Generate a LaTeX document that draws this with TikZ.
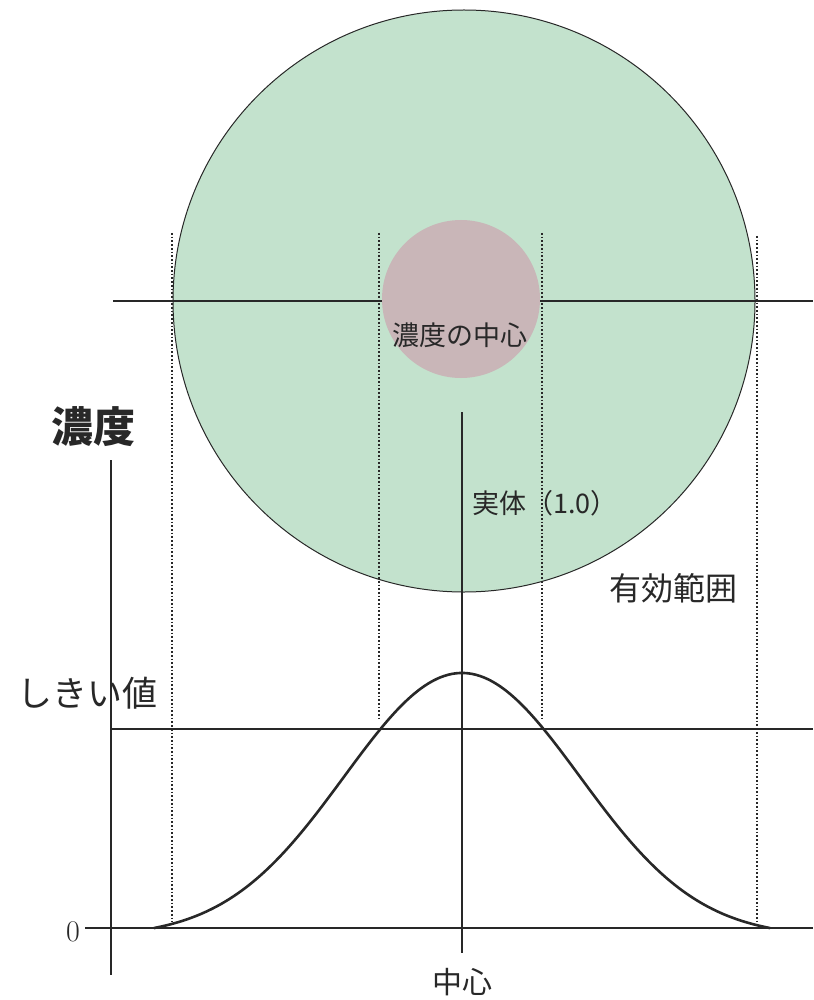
\documentclass[tikz,border=0pt]{standalone}
\usepackage{fontspec}
\newfontfamily\cjk{Noto Sans CJK JP}
\definecolor{effgreen}{RGB}{195,226,205}
\definecolor{corepink}{RGB}{201,182,184}
\definecolor{ink}{RGB}{40,40,40}
\tikzset{
  thinline/.style={draw=ink, line width=1.1pt},
  dotline/.style={draw=ink, line width=1.9pt, dash pattern=on 1.7pt off 2.0pt},
  lbl/.style={text=ink, inner sep=0pt},
}
\begin{document}
\begin{tikzpicture}[x=1pt, y=-1pt]
\useasboundingbox (0,0) rectangle (813,1000);
% circles
\fill[effgreen] (464,301) circle (291);
\draw[ink, line width=1pt] (464,301) circle (291);
\coordinate (hl) at (113,301);
\coordinate (hr) at (813,301);
\draw[thinline] (hl) -- (hr);
\fill[corepink] (461,299) circle (79);
% dotted verticals
\coordinate (d1t) at (172,233); \coordinate (d1b) at (172,922);
\coordinate (d2t) at (379,233); \coordinate (d2b) at (379,719);
\coordinate (d3t) at (542,233); \coordinate (d3b) at (542,719);
\coordinate (d4t) at (757,236); \coordinate (d4b) at (757,922);
\draw[dotline] (d1t) -- (d1b);
\draw[dotline] (d2t) -- (d2b);
\draw[dotline] (d3t) -- (d3b);
\draw[dotline] (d4t) -- (d4b);
% axes
\coordinate (yt) at (111,460); \coordinate (yb) at (111,975);
\coordinate (xl) at (85,928); \coordinate (xr) at (813,928);
\coordinate (tl) at (111,729); \coordinate (tr) at (813,729);
\coordinate (ct) at (462,412); \coordinate (cb) at (462,953);
\draw[thinline] (yt) -- (yb);
\draw[thinline] (xl) -- (xr);
\draw[thinline] (tl) -- (tr);
\draw[thinline] (ct) -- (cb);
% curve
\draw[ink, line width=2.6pt, line cap=round]
  plot[domain=-308:308, samples=120, smooth]
  ({462+\x}, {928-255*(exp(-(\x/100)*(\x/100)/2.7848)-0.0332)/0.9668});
% labels
\node[lbl, font=\cjk\bfseries\fontsize{42}{42}\selectfont] (nd) at (93,427) {濃度};
\node[lbl, font=\cjk\fontsize{35}{35}\selectfont] (th) at (87,693) {しきい値};
\node[lbl, font=\cjk\fontsize{27}{27}\selectfont] (cc) at (460,335) {濃度の中心};
\node[lbl, font=\cjk\fontsize{27}{27}\selectfont] (ent) at (545,503) {実体（1.0）};
\node[lbl, font=\cjk\fontsize{32}{32}\selectfont] (rng) at (673,588) {有効範囲};
\node[lbl, font=\cjk\fontsize{30}{30}\selectfont] (cen) at (462,982) {中心};
\node[lbl, font=\fontsize{30}{30}\selectfont] (zero) at (73,932) {0};
\end{tikzpicture}
\end{document}
